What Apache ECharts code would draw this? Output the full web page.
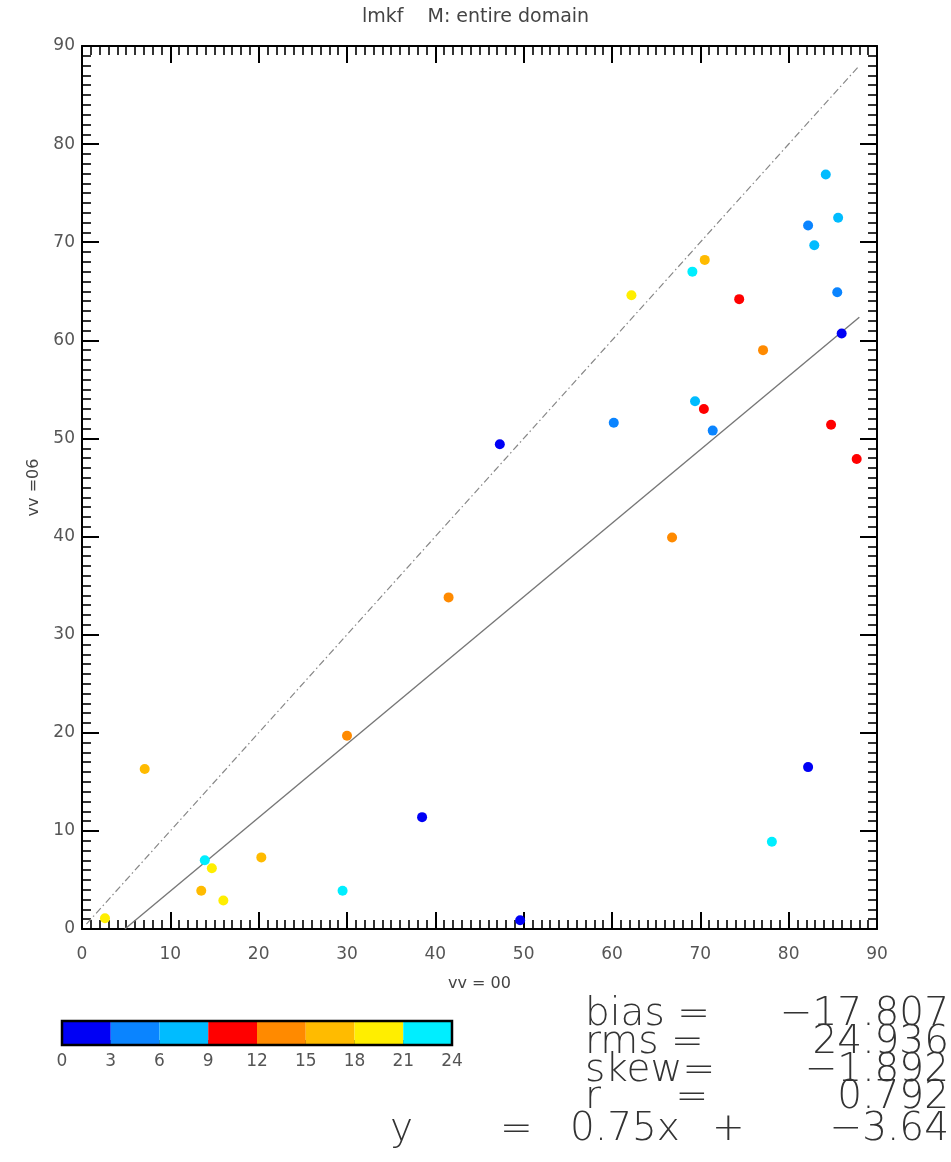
<!DOCTYPE html>
<html>
<head>
<meta charset="utf-8">
<script src="https://cdn.jsdelivr.net/npm/echarts@6/dist/echarts.min.js"></script>
<style>html,body{margin:0;padding:0;background:#fff}#c{width:951px;height:1162px}</style>
</head>
<body>
<div id="c"></div>
<script>
// ---- data ----
const obsX   = [84.2, 85.6, 82.2, 82.9, 70.5, 69.1, 62.2, 74.4, 85.5, 86.0, 77.1, 69.4, 70.4, 60.2, 71.4, 84.8, 87.7, 47.3, 66.8, 41.5, 30.0, 7.1, 82.2, 38.5, 78.1, 13.9, 14.7, 20.3, 13.5, 16.0, 29.5, 2.6, 49.6];
const fcstY  = [76.9, 72.5, 71.7, 69.7, 68.2, 67.0, 64.6, 64.2, 64.9, 60.7, 59.0, 53.8, 53.0, 51.6, 50.8, 51.4, 47.9, 49.4, 39.9, 33.8, 19.7, 16.3, 16.5, 11.4, 8.9, 7.0, 6.2, 7.3, 3.9, 2.9, 3.9, 1.1, 0.9];
const hourBin = [2, 2, 1, 2, 5, 7, 6, 3, 1, 0, 4, 2, 3, 1, 1, 3, 3, 0, 4, 4, 4, 5, 0, 0, 7, 7, 6, 5, 5, 6, 7, 6, 0];
const binEdges = [0, 3, 6, 9, 12, 15, 18, 21, 24];
const binColors = ['#0000f5', '#0a84ff', '#00bcff', '#ff0000', '#ff8a00', '#ffbb00', '#ffee00', '#00eeff'];
const regSlope = 0.75, regIntercept = -3.64;
const regLineX = [4.85, 88.0];
const oneToOneX = [0.5, 88.0];
const titleText = 'lmkf    M: entire domain';
const xName = 'vv = 00';
const yName = 'vv =06';
const stats = [['bias =', '\u221217.807'], ['rms =', '24.936'], ['skew=', '\u22121.892'], ['r      =', '0.792']];

// ---- build ----
const pts = obsX.map((x, i) => [x, fcstY[i], hourBin[i]]);
const regLine = regLineX.map(x => [x, regSlope * x + regIntercept]);
const idLine = oneToOneX.map(x => [x, x]);
const cbData = binColors.map((c, i) => [binEdges[i], binEdges[i + 1], i]);

const FONT = 'DejaVu Sans';
const axCommon = {
  type: 'value', min: 0, max: 90, interval: 10,
  axisLine: {show: true, onZero: false, lineStyle: {color: '#000', width: 2}},
  axisTick: {show: true, inside: true, length: 17, lineStyle: {color: '#000', width: 2}},
  minorTick: {show: true, splitNumber: 10, length: 9, lineStyle: {color: '#000', width: 1.6}},
  splitLine: {show: false}, minorSplitLine: {show: false}
};
const chart = echarts.init(document.getElementById('c'));
chart.setOption({
  animation: false,
  backgroundColor: '#fff',
  title: {text: titleText, left: 'center', top: 3, textStyle: {fontFamily: FONT, fontWeight: 'normal', fontSize: 19, color: '#444'}},
  grid: [
    {left: 82, right: 74, top: 46, bottom: 233},
    {left: 62, width: 390, top: 1021, height: 24}
  ],
  xAxis: [
    Object.assign({}, axCommon, {gridIndex: 0, position: 'bottom',
      axisLabel: {margin: 17, fontFamily: FONT, fontSize: 17, color: '#555'},
      name: xName, nameLocation: 'middle', nameGap: 47, nameTextStyle: {fontFamily: FONT, fontSize: 16, color: '#444'}}),
    Object.assign({}, axCommon, {gridIndex: 0, position: 'top', axisLabel: {show: false}}),
    {type: 'value', gridIndex: 1, min: 0, max: 24, interval: 3, position: 'bottom',
      axisLine: {show: false}, splitLine: {show: false},
      axisTick: {show: true, inside: true, length: 5, lineStyle: {color: '#000', width: 1.5}},
      minorTick: {show: true, splitNumber: 2, length: 5, lineStyle: {color: '#000', width: 1.5}},
      axisLabel: {margin: 8, fontFamily: FONT, fontSize: 17, color: '#555'}}
  ],
  yAxis: [
    Object.assign({}, axCommon, {gridIndex: 0, position: 'left',
      axisLabel: {margin: 7, fontFamily: FONT, fontSize: 17, color: '#555'},
      name: yName, nameLocation: 'middle', nameGap: 40, nameTextStyle: {fontFamily: FONT, fontSize: 16, color: '#444'}}),
    Object.assign({}, axCommon, {gridIndex: 0, position: 'right', axisLabel: {show: false}}),
    {type: 'value', gridIndex: 1, min: 0, max: 1, show: false}
  ],
  series: [
    {type: 'line', xAxisIndex: 0, yAxisIndex: 0, data: idLine, symbol: 'none', silent: true,
      lineStyle: {color: '#888', width: 1.2, type: [7, 3, 1.5, 3]}},
    {type: 'line', xAxisIndex: 0, yAxisIndex: 0, data: regLine, symbol: 'none', silent: true,
      lineStyle: {color: '#777', width: 1.4}},
    {type: 'scatter', xAxisIndex: 0, yAxisIndex: 0, data: pts, symbolSize: 10, z: 3,
      itemStyle: {opacity: 1, color: p => binColors[p.data[2]]}},
    {type: 'custom', xAxisIndex: 2, yAxisIndex: 2, data: cbData,
      renderItem: (params, api) => {
        const a = api.coord([api.value(0), 1]);
        const b = api.coord([api.value(1), 0]);
        return {type: 'rect', shape: {x: a[0], y: a[1], width: b[0] - a[0], height: b[1] - a[1]},
          style: {fill: binColors[api.value(2)], stroke: '#000', lineWidth: 0}};
      }},
    {type: 'custom', xAxisIndex: 2, yAxisIndex: 2, data: [[0, 24]], z: 5,
      renderItem: (params, api) => {
        const a = api.coord([api.value(0), 1]);
        const b = api.coord([api.value(1), 0]);
        return {type: 'rect', shape: {x: a[0], y: a[1], width: b[0] - a[0], height: b[1] - a[1]},
          style: {fill: 'none', stroke: '#000', lineWidth: 2.5}};
      }}
  ],
  graphic: (() => {
    const g = [];
    const st = {fontFamily: FONT, fontWeight: 200, fontSize: 39, fill: '#333', textVerticalAlign: 'middle'};
    const ys = [1018, 1046, 1074, 1101];
    stats.forEach((s, i) => {
      g.push({type: 'text', left: 585, top: ys[i] - 23, style: Object.assign({}, st, {text: s[0]})});
      g.push({type: 'text', right: 2, top: ys[i] - 23, style: Object.assign({}, st, {text: s[1], textAlign: 'right'})});
    });
    const yl = 1110;
    g.push({type: 'text', left: 390, top: yl, style: Object.assign({}, st, {text: 'y'})});
    g.push({type: 'text', left: 500, top: yl, style: Object.assign({}, st, {text: '='})});
    g.push({type: 'text', left: 570, top: yl, style: Object.assign({}, st, {text: regSlope.toFixed(2) + 'x'})});
    g.push({type: 'text', left: 712, top: yl, style: Object.assign({}, st, {text: '+'})});
    g.push({type: 'text', right: 2, top: yl, style: Object.assign({}, st, {text: '\u2212' + Math.abs(regIntercept).toFixed(2)})});
    return g;
  })()
});
</script>
</body>
</html>
